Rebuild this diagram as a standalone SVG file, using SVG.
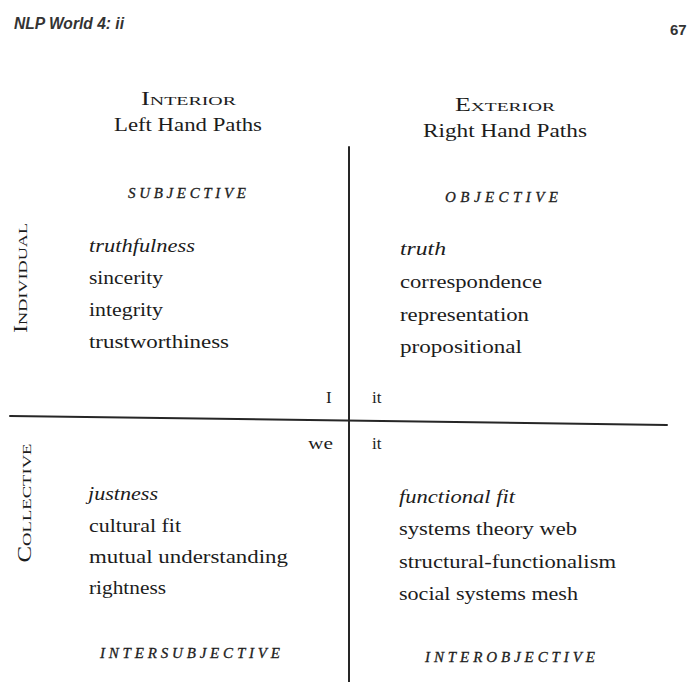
<svg xmlns="http://www.w3.org/2000/svg" width="689" height="682" viewBox="0 0 689 682">
  <style>
    text { fill: #1c1c1c; font-family: "Liberation Serif", "Times New Roman", serif; }
    .run { font-family: "Liberation Sans", Arial, sans-serif; font-style: italic; font-weight: bold; font-size: 16px; fill: #333; }
    .folio { font-family: "Liberation Sans", Arial, sans-serif; font-weight: bold; font-size: 15px; fill: #333; }
    .head { font-size: 18px; text-anchor: middle; }
    .sc { font-size: 13.5px; }
    .ital-caps { font-size: 15px; font-style: italic; text-anchor: middle; stroke: #1c1c1c; stroke-width: 0.3; }
    .item { font-size: 18px; }
    .em { font-style: italic; }
    .tag { font-size: 17px; }
    .axis { stroke: #262626; stroke-width: 2; fill: none; stroke-linecap: round; }
  </style>

  <!-- running head and folio -->
  <g id="running-head">
    <text class="run" x="14" y="29" textLength="110" lengthAdjust="spacingAndGlyphs">NLP World 4: ii</text>
    <text class="folio" x="670" y="35">67</text>
  </g>

  <!-- quadrant axes -->
  <g id="axes">
    <line class="axis" x1="349" y1="147" x2="349" y2="682"/>
    <line class="axis" x1="10" y1="416" x2="667" y2="425"/>
  </g>

  <!-- column headings -->
  <g id="heading-interior">
    <text class="head" x="188.5" y="105" textLength="95" lengthAdjust="spacingAndGlyphs">I<tspan class="sc">NTERIOR</tspan></text>
    <text class="head" x="188" y="131" textLength="148" lengthAdjust="spacingAndGlyphs">Left Hand Paths</text>
  </g>
  <g id="heading-exterior">
    <text class="head" x="505" y="111" textLength="100" lengthAdjust="spacingAndGlyphs">E<tspan class="sc">XTERIOR</tspan></text>
    <text class="head" x="505" y="137" textLength="164" lengthAdjust="spacingAndGlyphs">Right Hand Paths</text>
  </g>

  <!-- row labels -->
  <g id="label-individual">
    <text class="head" transform="translate(27 278) rotate(-90)" x="0" y="0" textLength="110" lengthAdjust="spacingAndGlyphs">I<tspan class="sc">NDIVIDUAL</tspan></text>
  </g>
  <g id="label-collective">
    <text class="head" transform="translate(31 503) rotate(-90)" x="0" y="0" textLength="119" lengthAdjust="spacingAndGlyphs">C<tspan class="sc">OLLECTIVE</tspan></text>
  </g>

  <!-- upper left: subjective -->
  <g id="quadrant-upper-left">
    <text class="ital-caps" x="187" y="198" textLength="118" lengthAdjust="spacing">SUBJECTIVE</text>
    <text class="item em" x="89" y="252" textLength="106" lengthAdjust="spacingAndGlyphs">truthfulness</text>
    <text class="item" x="89" y="284" textLength="74" lengthAdjust="spacingAndGlyphs">sincerity</text>
    <text class="item" x="89" y="316" textLength="74" lengthAdjust="spacingAndGlyphs">integrity</text>
    <text class="item" x="89" y="348" textLength="140" lengthAdjust="spacingAndGlyphs">trustworthiness</text>
    <text class="tag" x="326" y="403">I</text>
  </g>

  <!-- upper right: objective -->
  <g id="quadrant-upper-right">
    <text class="ital-caps" x="501.5" y="202" textLength="113" lengthAdjust="spacing">OBJECTIVE</text>
    <text class="item em" x="400" y="255" textLength="46" lengthAdjust="spacingAndGlyphs">truth</text>
    <text class="item" x="400" y="288" textLength="142" lengthAdjust="spacingAndGlyphs">correspondence</text>
    <text class="item" x="400" y="321" textLength="129" lengthAdjust="spacingAndGlyphs">representation</text>
    <text class="item" x="400" y="353" textLength="122" lengthAdjust="spacingAndGlyphs">propositional</text>
    <text class="tag" x="372" y="403">it</text>
  </g>

  <!-- lower left: intersubjective -->
  <g id="quadrant-lower-left">
    <text class="tag" x="308" y="449" textLength="25" lengthAdjust="spacingAndGlyphs">we</text>
    <text class="item em" x="88" y="500" textLength="70" lengthAdjust="spacingAndGlyphs">justness</text>
    <text class="item" x="89" y="532" textLength="92" lengthAdjust="spacingAndGlyphs">cultural fit</text>
    <text class="item" x="89" y="563" textLength="199" lengthAdjust="spacingAndGlyphs">mutual understanding</text>
    <text class="item" x="89" y="594" textLength="77" lengthAdjust="spacingAndGlyphs">rightness</text>
    <text class="ital-caps" x="190" y="658" textLength="180" lengthAdjust="spacing">INTERSUBJECTIVE</text>
  </g>

  <!-- lower right: interobjective -->
  <g id="quadrant-lower-right">
    <text class="tag" x="372" y="449">it</text>
    <text class="item em" x="399" y="503" textLength="116" lengthAdjust="spacingAndGlyphs">functional fit</text>
    <text class="item" x="399" y="535" textLength="178" lengthAdjust="spacingAndGlyphs">systems theory web</text>
    <text class="item" x="399" y="568" textLength="217" lengthAdjust="spacingAndGlyphs">structural-functionalism</text>
    <text class="item" x="399" y="600" textLength="179" lengthAdjust="spacingAndGlyphs">social systems mesh</text>
    <text class="ital-caps" x="510" y="662" textLength="170" lengthAdjust="spacing">INTEROBJECTIVE</text>
  </g>
</svg>
